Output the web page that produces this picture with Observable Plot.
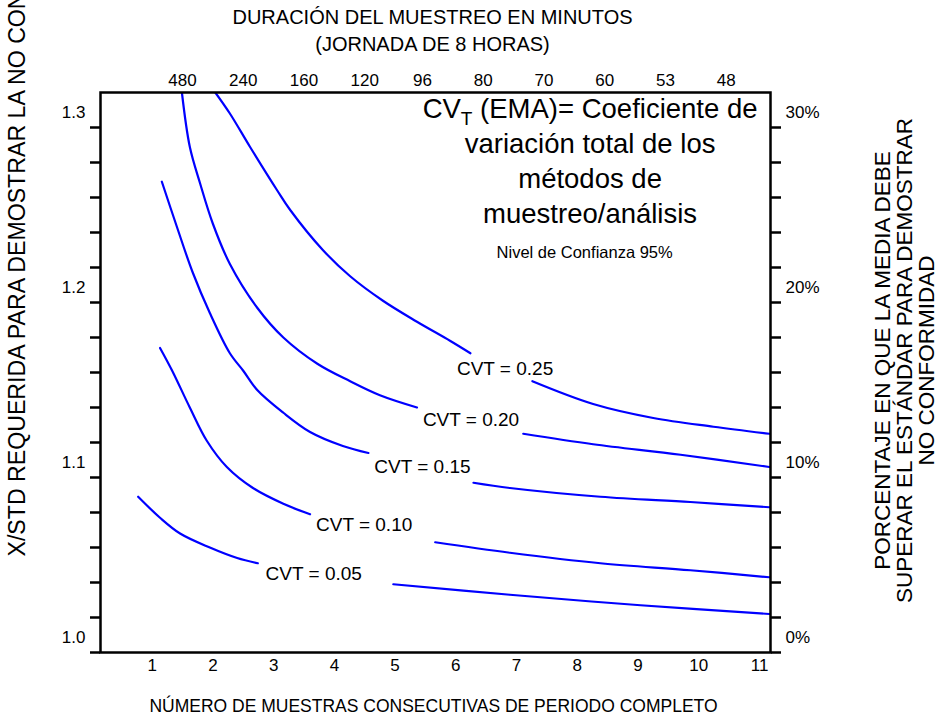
<!DOCTYPE html>
<html><head><meta charset="utf-8">
<script src="https://cdn.jsdelivr.net/npm/d3@7"></script>
<script src="https://cdn.jsdelivr.net/npm/@observablehq/plot@0.6"></script>
<style>
html,body{margin:0;padding:0;background:#fff;}
#chart{width:945px;height:717px;overflow:hidden;}
</style></head><body><div id="chart"></div>
<script>
// ---- data ----
const bottomTicks = [1,2,3,4,5,6,7,8,9,10,11];
const topLabels = ["480","240","160","120","96","80","70","60","53","48"];
const topAt = [1.5,2.5,3.5,4.5,5.45,6.45,7.45,8.45,9.45,10.45];
const leftLabels = [1.0,1.1,1.2,1.3];
const minorTicks = [1.00,1.02,1.04,1.06,1.08,1.10,1.12,1.14,1.16,1.18,1.20,1.22,1.24,1.26,1.28,1.30];

const cv25n = [2.04,2.28,2.61,3.06,3.27,3.81,4.26,4.80,5.36,5.91,6.24,null,7.26,8.26,9.25,10.24,11.16];
const cv25y = [1.320,1.308,1.289,1.264,1.253,1.230,1.215,1.201,1.189,1.178,1.171,null,1.155,1.142,1.134,1.129,1.125];
const cv20n = [1.49,1.62,1.79,2.00,2.28,2.73,3.16,3.72,4.26,4.75,5.36,null,7.11,8.26,9.70,11.16];
const cv20y = [1.320,1.289,1.268,1.245,1.222,1.197,1.180,1.165,1.155,1.147,1.140,null,1.125,1.119,1.113,1.106];
const cv15n = [1.16,1.41,1.67,1.95,2.28,2.50,2.73,3.16,3.60,4.14,4.56,null,6.29,6.89,8.38,9.86,11.16];
const cv15y = [1.269,1.243,1.217,1.194,1.171,1.161,1.150,1.137,1.126,1.118,1.114,null,1.097,1.094,1.089,1.086,1.083];
const cv10n = [1.13,1.33,1.62,1.90,2.23,2.66,3.16,3.60,null,5.66,6.89,8.38,9.86,11.16];
const cv10y = [1.174,1.161,1.140,1.121,1.106,1.094,1.085,1.079,null,1.063,1.057,1.051,1.047,1.043];
const cv05n = [0.77,1.13,1.46,1.95,2.40,2.74,null,4.97,6.89,9.04,11.16];
const cv05y = [1.089,1.077,1.068,1.060,1.054,1.051,null,1.039,1.033,1.027,1.022];

const cvtLabels = ["CVT = 0.25","CVT = 0.20","CVT = 0.15","CVT = 0.10","CVT = 0.05"];
const cvtLabelN = [6.81,6.25,5.45,4.49,3.66];
const cvtLabelY = [1.162,1.133,1.106,1.073,1.045];

const noteLines = ["CVT (EMA)= Coeficiente de","variación total de los","métodos de","muestreo/análisis"];
const noteSmall = "Nivel de Confianza 95%";
const topTitle = ["DURACIÓN DEL MUESTREO EN MINUTOS","(JORNADA DE 8 HORAS)"];
const bottomTitle = "NÚMERO DE MUESTRAS CONSECUTIVAS DE PERIODO COMPLETO";
const leftTitle = "X/STD REQUERIDA PARA DEMOSTRAR LA NO CONFORMIDAD";
const rightTitle = ["PORCENTAJE EN QUE LA MEDIA DEBE","SUPERAR EL ESTÁNDAR PARA DEMOSTRAR","NO CONFORMIDAD"];

// ---- build ----
function rows(ns, ys, k) { return ns.map((n, i) => ({n, y: ys[i], k})); }
const curves = [
  rows(cv25n, cv25y, "0.25"), rows(cv20n, cv20y, "0.20"), rows(cv15n, cv15y, "0.15"),
  rows(cv10n, cv10y, "0.10"), rows(cv05n, cv05y, "0.05")
];
const FONT = "'Liberation Sans', Arial, sans-serif";
const blue = "#0000ff";

const marks = [
  ...curves.map(c => Plot.line(c, {x: "n", y: "y", stroke: blue, strokeWidth: 2.2, curve: "catmull-rom", clip: true})),
  Plot.frame({stroke: "#000", strokeWidth: 2.5}),
  Plot.axisY(minorTicks, {anchor: "left", tickSize: 10, strokeWidth: 2.5, tickFormat: () => "", label: null}),
  Plot.axisY(minorTicks, {anchor: "right", tickSize: 10, strokeWidth: 2.5, tickFormat: () => "", label: null}),
  Plot.text(leftLabels, {y: d => d, text: d => d.toFixed(1), frameAnchor: "left", textAnchor: "end", dx: -15, dy: -15, fontSize: 17}),
  Plot.text(leftLabels, {y: d => d, text: d => Math.round((d - 1) * 100) + "%", frameAnchor: "right", textAnchor: "start", dx: 15, dy: -15, fontSize: 17}),
  Plot.text(bottomTicks, {x: d => d, text: d => String(d), frameAnchor: "bottom", dy: 18, fontSize: 17}),
  Plot.text(topLabels, {x: (d, i) => topAt[i], text: d => d, frameAnchor: "top", dy: -19, fontSize: 17}),
  Plot.text(cvtLabels, {x: (d, i) => cvtLabelN[i], y: (d, i) => cvtLabelY[i], text: d => d, fontSize: 19})
];
noteLines.forEach((t, i) => {
  marks.push(Plot.text([t], {x: () => 8.21, frameAnchor: "top", dy: 17 + i * 35, text: d => d, fontSize: 27.5, lineAnchor: "middle"}));
});
marks.push(Plot.text([noteSmall], {x: () => 8.12, frameAnchor: "top", dy: 160, text: d => d, fontSize: 16.5, lineAnchor: "middle"}));
// titles
marks.push(Plot.text([topTitle[0]], {frameAnchor: "top", dx: -3, dy: -75, text: d => d, fontSize: 20, lineAnchor: "middle"}));
marks.push(Plot.text([topTitle[1]], {frameAnchor: "top", dx: -3, dy: -48, text: d => d, fontSize: 20, lineAnchor: "middle"}));
marks.push(Plot.text([bottomTitle], {frameAnchor: "bottom", dx: -2, dy: 54, text: d => d, fontSize: 17.5, lineAnchor: "middle"}));
marks.push(Plot.text([leftTitle], {frameAnchor: "bottom-left", dx: -83, dy: -96, text: d => d, rotate: -90, textAnchor: "start", fontSize: 23.15, lineAnchor: "middle"}));
marks.push(Plot.text([rightTitle.join("\n")], {frameAnchor: "right", dx: 134, dy: -12, text: d => d, rotate: -90, textAnchor: "middle", fontSize: 22.5, lineHeight: 0.98, lineAnchor: "middle"}));

const chart = Plot.plot({
  width: 945, height: 717,
  marginLeft: 100, marginRight: 175, marginTop: 92, marginBottom: 65,
  x: {domain: [0.15, 11.18], axis: null},
  y: {domain: [1.0, 1.32], axis: null},
  style: {fontFamily: FONT, color: "#000", background: "#fff", overflow: "hidden"},
  marks
});
// subscript T in CV_T
chart.querySelectorAll("text").forEach(el => {
  if (el.textContent === noteLines[0]) {
    el.textContent = "";
    const ns = "http://www.w3.org/2000/svg";
    const a = document.createElementNS(ns, "tspan"); a.textContent = "CV";
    const b = document.createElementNS(ns, "tspan"); b.textContent = "T"; b.setAttribute("font-size", "19"); b.setAttribute("dy", "7");
    const c = document.createElementNS(ns, "tspan"); c.textContent = " (EMA)= Coeficiente de"; c.setAttribute("dy", "-7");
    el.append(a, b, c);
  }
});
document.getElementById("chart").appendChild(chart);
</script></body></html>
